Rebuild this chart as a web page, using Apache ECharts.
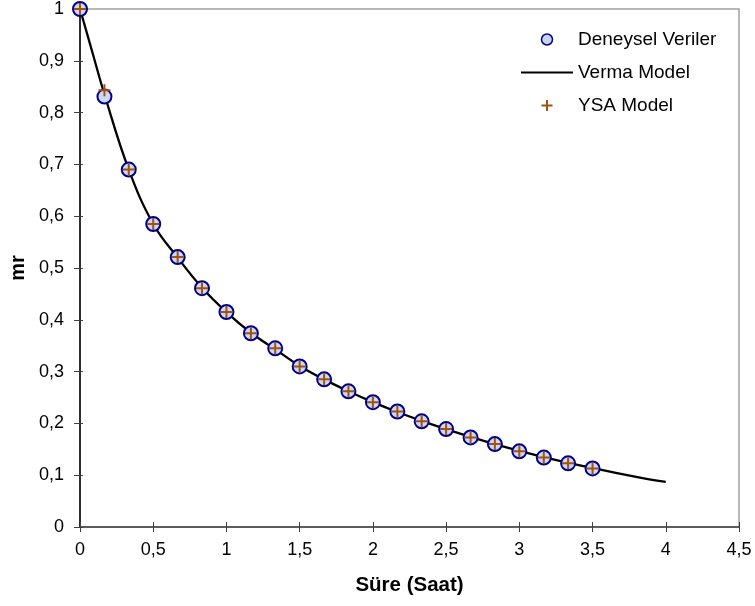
<!DOCTYPE html>
<html>
<head>
<meta charset="utf-8">
<script src="https://cdn.jsdelivr.net/npm/echarts@6/dist/echarts.min.js"></script>
<style>html,body{margin:0;padding:0;background:#fff}#c{width:755px;height:606px}</style>
</head>
<body>
<div id="c"></div>
<script>
// Measurement times (hours)
const expTime = [0, 0.167, 0.333, 0.5, 0.667, 0.833, 1, 1.167, 1.333, 1.5, 1.667, 1.833, 2, 2.167, 2.333, 2.5, 2.667, 2.833, 3, 3.167, 3.333, 3.5];
// Experimental moisture ratio
const expMR = [1.0, 0.831, 0.690, 0.585, 0.521, 0.461, 0.415, 0.374, 0.345, 0.310, 0.285, 0.262, 0.241, 0.223, 0.204, 0.189, 0.173, 0.160, 0.146, 0.134, 0.123, 0.113];
// ANN (YSA) model values
const ysaMR = [1.0, 0.843, 0.690, 0.585, 0.521, 0.461, 0.415, 0.374, 0.345, 0.310, 0.285, 0.262, 0.241, 0.223, 0.204, 0.189, 0.173, 0.160, 0.146, 0.134, 0.123, 0.113];
// Verma model curve
const vermaTime = [0, 0.083, 0.167, 0.333, 0.5, 0.667, 0.833, 1, 1.167, 1.333, 1.5, 1.667, 1.833, 2, 2.167, 2.333, 2.5, 2.667, 2.833, 3, 3.167, 3.333, 3.5, 3.667, 3.833, 4];
const vermaMR = [1.0, 0.918, 0.835, 0.690, 0.585, 0.520, 0.462, 0.415, 0.375, 0.343, 0.311, 0.285, 0.262, 0.241, 0.222, 0.205, 0.189, 0.174, 0.160, 0.147, 0.135, 0.124, 0.114, 0.104, 0.095, 0.087];
const xTicks = {min: 0, max: 4.5, interval: 0.5};
const yTicks = {min: 0, max: 1, interval: 0.1};
const names = ['Deneysel Veriler', 'Verma Model', 'YSA Model'];

const zip = (a, b) => a.map((v, i) => [v, b[i]]);
const comma = v => String(+v.toFixed(2)).replace('.', ',');
const FONT = 'Liberation Sans, Arial, sans-serif';
const plusPath = 'path://M5,0L5,10M0,5L10,5';
const linePath = 'path://M0,0L52,0L52,2.2L0,2.2Z';

const chart = echarts.init(document.getElementById('c'), null, {renderer: 'canvas'});
chart.setOption({
  animation: false,
  backgroundColor: '#fff',
  textStyle: {fontFamily: FONT},
  grid: {left: 80, right: 16, top: 9, bottom: 79, show: true, borderColor: '#a0a0a0', borderWidth: 1.5, backgroundColor: 'transparent'},
  legend: {
    orient: 'vertical', left: 516, top: 25, itemWidth: 52, itemHeight: 11, itemGap: 14,
    textStyle: {fontFamily: FONT, fontSize: 19, color: '#000'},
    data: [
      {name: names[0], icon: 'circle', itemStyle: {color: '#c8d4f2', borderColor: '#00008b', borderWidth: 1.5}},
      {name: names[1], icon: linePath, itemStyle: {color: '#000', borderWidth: 0}},
      {name: names[2], icon: plusPath, itemStyle: {color: 'transparent', borderColor: '#a0520f', borderWidth: 2}}
    ]
  },
  xAxis: [{
    type: 'value', min: xTicks.min, max: xTicks.max, interval: xTicks.interval,
    name: 'Süre (Saat)', nameLocation: 'middle', nameGap: 48,
    nameTextStyle: {fontFamily: FONT, fontSize: 20.5, fontWeight: 'bold', color: '#000'},
    axisLine: {show: true, onZero: false, lineStyle: {color: '#404040', width: 1.5}},
    axisTick: {show: true, length: 5, lineStyle: {color: '#404040'}},
    axisLabel: {fontFamily: FONT, fontSize: 18, color: '#000', margin: 14, formatter: comma},
    splitLine: {show: false}
  }, {
    type: 'value', min: xTicks.min, max: xTicks.max, interval: xTicks.interval, position: 'bottom',
    axisLine: {show: false}, axisLabel: {show: false}, splitLine: {show: false},
    axisTick: {show: true, inside: true, length: 5, lineStyle: {color: '#404040'}}
  }],
  yAxis: [{
    type: 'value', min: yTicks.min, max: yTicks.max, interval: yTicks.interval,
    name: 'mr', nameLocation: 'middle', nameGap: 52,
    nameTextStyle: {fontFamily: FONT, fontSize: 20, fontWeight: 'bold', color: '#000'},
    axisLine: {show: true, onZero: false, lineStyle: {color: '#000', width: 1.5}},
    axisTick: {show: true, length: 6, lineStyle: {color: '#404040'}},
    axisLabel: {fontFamily: FONT, fontSize: 18, color: '#000', margin: 16, formatter: comma},
    splitLine: {show: false}
  }, {
    type: 'value', min: yTicks.min, max: yTicks.max, interval: yTicks.interval, position: 'left',
    axisLine: {show: false}, axisLabel: {show: false}, splitLine: {show: false},
    axisTick: {show: true, inside: true, length: 3, lineStyle: {color: '#404040'}}
  }],
  series: [
    {
      name: names[1], type: 'line', data: zip(vermaTime, vermaMR), smooth: 0.4, showSymbol: false, symbol: 'none',
      lineStyle: {color: '#000', width: 2.3}, itemStyle: {color: '#000'}, z: 2
    },
    {
      name: names[0], type: 'scatter', data: zip(expTime, expMR), symbol: 'circle', symbolSize: 14,
      itemStyle: {color: '#ccd8f4', borderColor: '#00008b', borderWidth: 2, opacity: 1}, z: 3
    },
    {
      name: names[2], type: 'scatter', data: zip(expTime, ysaMR), symbol: plusPath, symbolSize: 12, symbolKeepAspect: true,
      itemStyle: {color: 'transparent', borderColor: '#a0520f', borderWidth: 2, opacity: 1}, z: 4
    }
  ]
});
</script>
</body>
</html>
